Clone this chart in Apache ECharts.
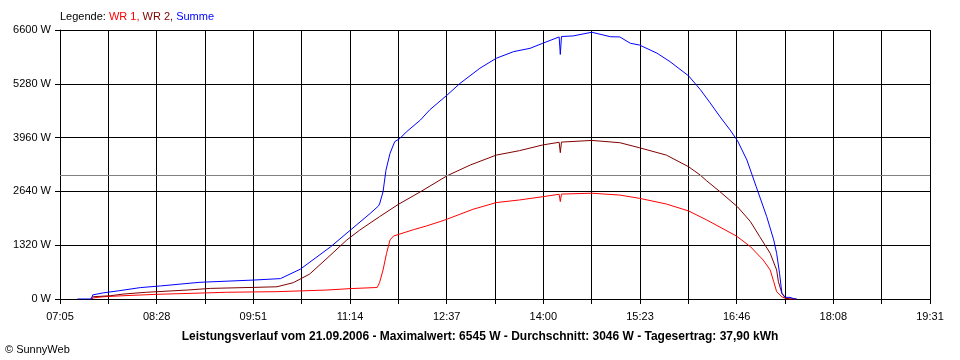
<!DOCTYPE html>
<html>
<head>
<meta charset="utf-8">
<script src="https://cdn.jsdelivr.net/npm/echarts@6/dist/echarts.min.js"></script>
<style>
html,body{margin:0;padding:0;background:#fff;}
#chart{width:960px;height:360px;}
</style>
</head>
<body>
<div id="chart"></div>
<script>
// ---- data ----
const xTickLabels = ['07:05','08:28','09:51','11:14','12:37','14:00','15:23','16:46','18:08','19:31'];
const yTicks = [0, 1320, 2640, 3960, 5280, 6600];
const averageW = 3046;
const titleText = 'Leistungsverlauf vom 21.09.2006 - Maximalwert: 6545 W - Durchschnitt: 3046 W - Tagesertrag: 37,90 kWh';

const wr1Times = ['07:32','07:34','07:42','07:59','08:28','08:59','09:28','10:11','10:54','11:14','11:35','11:37','11:39','11:42','11:45','11:48','11:51','11:56:30','12:08','12:19','12:31','12:37','12:59','13:19','13:39','13:59','14:13','14:14','14:15','14:41','15:05','15:22','15:45','16:04','16:19:30','16:45','16:57','17:08','17:14','17:17','17:19:30','17:24','17:28','17:36'];
const wr1Watts = [0,30,55,80,115,140,165,180,220,255,280,285,400,710,1120,1450,1545,1595,1700,1790,1900,1960,2200,2365,2430,2510,2570,2390,2575,2595,2550,2470,2330,2160,1940,1545,1285,955,710,425,180,55,0,0];

const wr2Times = ['07:31','07:33','07:48','07:59','08:19','08:54','09:14','09:51','10:11','10:25','10:39','10:54','11:11','11:22','11:39','11:55','12:14','12:37','12:57','13:19','13:39','13:59','14:13','14:14','14:15','14:41','15:05','15:22','15:45','16:04','16:14','16:19:30','16:31','16:46','16:57','17:05','17:14','17:19:30','17:21','17:24','17:27','17:31','17:36'];
const wr2Watts = [0,55,80,120,165,220,260,285,300,400,610,1000,1450,1690,2020,2320,2630,3025,3290,3530,3640,3780,3845,3590,3850,3890,3835,3710,3530,3245,3040,2900,2630,2260,1900,1530,1120,710,425,140,20,0,0];

const sumTimes = ['07:20','07:32','07:33','07:42','07:55','08:14','08:31','09:05','09:51','10:14','10:31','10:57','11:14','11:31','11:38','11:39','11:42','11:44:30','11:48','11:52','11:56:30','12:02','12:14','12:22','12:37','12:48','13:05','13:19','13:34','13:48','13:59','14:13','14:14','14:15','14:25','14:41','14:57','15:05','15:14','15:22','15:37','15:48','16:04','16:11','16:14','16:22','16:31','16:39:30','16:46','16:54','17:02','17:11','17:17','17:19:30','17:22','17:24','17:27','17:31','17:35','17:37'];
const sumWatts = [0,0,100,150,200,280,320,410,465,500,730,1280,1690,2100,2280,2330,2630,3160,3575,3860,3940,4100,4390,4640,5005,5290,5660,5905,6070,6150,6275,6430,6000,6440,6455,6545,6435,6430,6275,6230,6030,5825,5475,5240,5140,4830,4470,4150,3880,3410,2755,2020,1450,1120,630,140,40,40,0,0];

// ---- helpers ----
function toMin(t){const p=t.split(':').map(Number);return p[0]*60+p[1]+(p[2]||0)/60;}
const startMin = toMin(xTickLabels[0]);
const endMin = toMin(xTickLabels[xTickLabels.length-1]);
const cells = (xTickLabels.length-1)*2;
function toX(t){return (toMin(t)-startMin)/(endMin-startMin)*cells;}
function pairs(ts, ws){return ts.map((t,i)=>[toX(t), ws[i]]);}

const FONT = '"Liberation Sans", Arial, sans-serif';
const chart = echarts.init(document.getElementById('chart'), null, {renderer:'canvas'});
chart.setOption({
  backgroundColor:'#ffffff',
  animation:false,
  grid:{left:60, right:30, top:30, bottom:61, containLabel:false},
  xAxis:{
    type:'value', min:0, max:cells, interval:1,
    axisLine:{show:true, lineStyle:{color:'#000', width:1}},
    axisTick:{show:true, length:5, lineStyle:{color:'#000'}},
    axisLabel:{color:'#000', fontFamily:FONT, fontSize:11, margin:12,
      formatter:function(v){const i=Math.round(v); return i%2===0 ? xTickLabels[i/2] : '';}},
    splitLine:{show:true, lineStyle:{color:'#000', width:1}}
  },
  yAxis:{
    type:'value', min:yTicks[0], max:yTicks[yTicks.length-1], interval:yTicks[1]-yTicks[0],
    axisLine:{show:true, lineStyle:{color:'#000', width:1}},
    axisTick:{show:true, length:5, lineStyle:{color:'#000'}},
    axisLabel:{color:'#000', fontFamily:FONT, fontSize:11, margin:9,
      formatter:function(v){return v+' W';}},
    splitLine:{show:true, lineStyle:{color:'#000', width:1}}
  },
  series:[
    {name:'WR 1', type:'line', data:pairs(wr1Times, wr1Watts), showSymbol:false, symbol:'none',
     lineStyle:{color:'#ff0000', width:1}, itemStyle:{color:'#ff0000'}, z:3},
    {name:'WR 2', type:'line', data:pairs(wr2Times, wr2Watts), showSymbol:false, symbol:'none',
     lineStyle:{color:'#800000', width:1}, itemStyle:{color:'#800000'}, z:4},
    {name:'Summe', type:'line', data:pairs(sumTimes, sumWatts), showSymbol:false, symbol:'none',
     lineStyle:{color:'#0000ff', width:1}, itemStyle:{color:'#0000ff'}, z:5,
     markLine:{silent:true, symbol:'none', label:{show:false},
       lineStyle:{color:'#808080', width:1, type:'solid'},
       data:[{yAxis:averageW}]}}
  ],
  graphic:[
    {type:'text', left:60, top:11, style:{
      text:'{k|Legende: }{a|WR 1, }{b|WR 2, }{c|Summe}',
      rich:{
        k:{fill:'#000', fontFamily:FONT, fontSize:11},
        a:{fill:'#ff0000', fontFamily:FONT, fontSize:11},
        b:{fill:'#800000', fontFamily:FONT, fontSize:11},
        c:{fill:'#0000ff', fontFamily:FONT, fontSize:11}
      }}},
    {type:'text', left:'center', top:331, style:{text:titleText, fill:'#000', fontFamily:FONT, fontSize:12, fontWeight:'bold'}},
    {type:'text', left:5, top:344, style:{text:'© SunnyWeb', fill:'#000', fontFamily:FONT, fontSize:11}}
  ]
});
</script>
</body>
</html>
